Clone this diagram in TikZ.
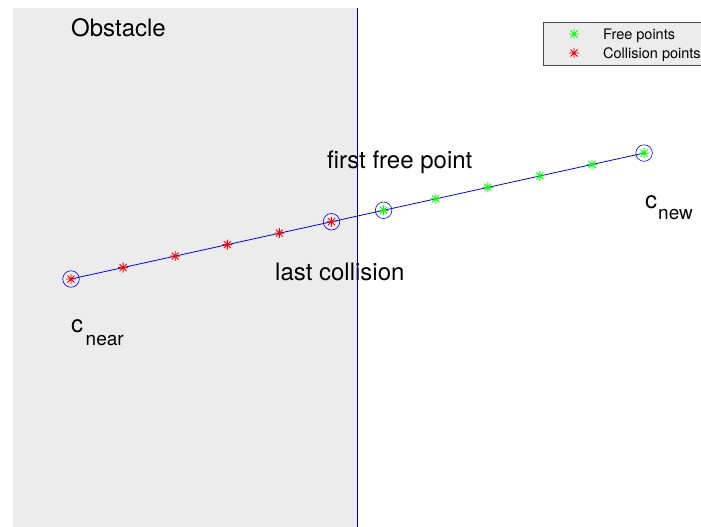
\documentclass[tikz,border=0pt]{standalone}
\usepackage{fontspec}
\setmainfont{TeX Gyre Heros}
\definecolor{obstgray}{RGB}{236,236,236}
\definecolor{pathblue}{RGB}{0,0,255}
\definecolor{wallblue}{RGB}{0,0,160}
\tikzset{
  astmark/.pic={\draw[line width=0.9pt] (-5,0) -- (5,0) (0,-5) -- (0,5)
    (-3.5,-3.5) -- (3.5,3.5) (-3.5,3.5) -- (3.5,-3.5);},
  pt/.style={inner sep=0pt, minimum size=0pt},
  ring/.style={circle, draw=pathblue, line width=0.6pt, minimum size=16.5pt, inner sep=0pt},
  lbl/.style={anchor=base west, inner sep=0pt, font=\fontsize{24}{24}\selectfont},
  leg/.style={anchor=base west, inner sep=0pt, font=\fontsize{14.5}{14.5}\selectfont},
  subtxt/.style={anchor=base west, inner sep=0pt, font=\fontsize{19}{19}\selectfont},
}
\begin{document}
\begin{tikzpicture}[x=1pt,y=-1pt]
  \useasboundingbox (0,0) rectangle (701,527);
  % obstacle
  \fill[obstgray] (13,8) rectangle (357,527);
  \node[lbl] (obst) at (71,37) {Obstacle};

  % labels
  \node[lbl] (ffree) at (327,168) {first free point};
  \node[lbl] (lcoll) at (275,280) {last collision};
  \node[lbl] (cnear) at (71,332) {c};
  \node[subtxt] (cnearsub) at (85.5,345) {near};
  \node[lbl] (cnew) at (645,208) {c};
  \node[subtxt] (cnewsub) at (658,219) {new};

  % wall of the obstacle
  \coordinate (wtop) at (357,8);
  \coordinate (wbot) at (357,527);
  \draw[wallblue, line width=0.9pt] (wtop) -- (wbot);

  % points along the segment
  \foreach \i in {0,...,11}
    \node[pt] (p\i) at ({71+52.1*\i},{279-11.45*\i}) {};
  \draw[pathblue, line width=0.8pt] (p0) -- (p11);
  \foreach \i in {0,...,5}
    \pic[red] at (p\i) {astmark};
  \foreach \i in {6,...,11}
    \pic[green] at (p\i) {astmark};
  \foreach \i in {0,5,6,11}
    \node[ring] at (p\i) {};

  % legend
  \draw[draw=black!70, fill=obstgray, line width=0.6pt] (543,22) rectangle (712,65);
  \pic[green] at (574,34) {astmark};
  \pic[red] at (574,53) {astmark};
  \node[leg] (legfree) at (603,40) {Free points};
  \node[leg] (legcoll) at (603,59) {Collision points};
\end{tikzpicture}
\end{document}
